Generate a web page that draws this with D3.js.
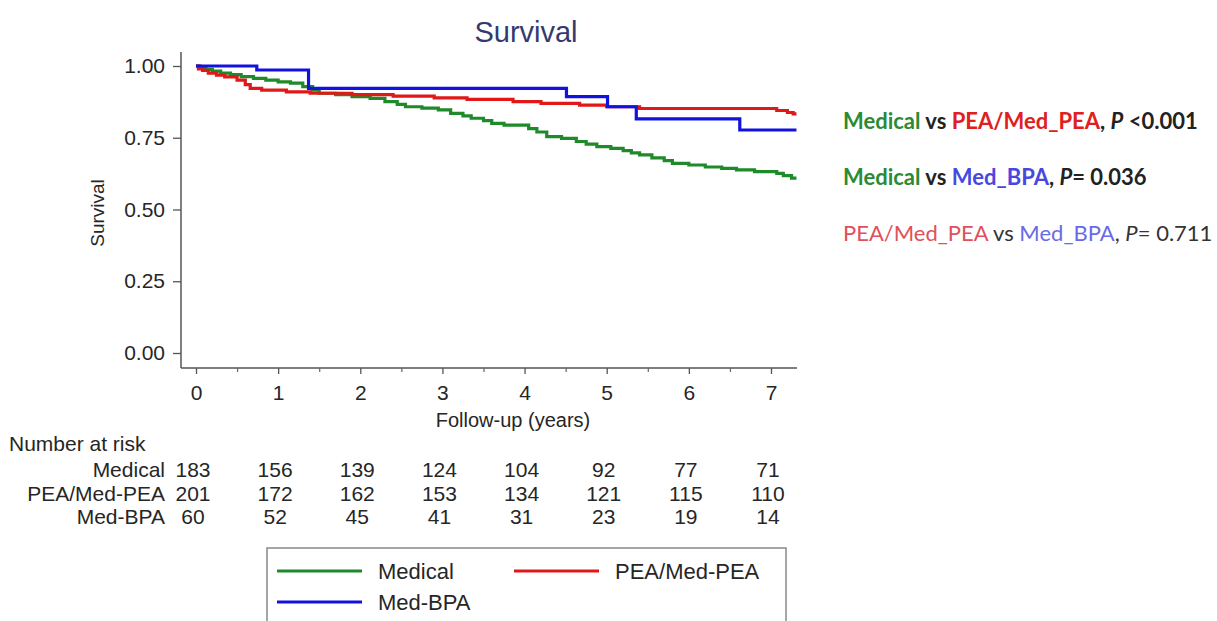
<!DOCTYPE html>
<html><head><meta charset="utf-8">
<script src="https://cdn.jsdelivr.net/npm/d3@7"></script>
<style>body{margin:0;background:#fff;}svg{display:block;font-family:"Liberation Sans",Arial,sans-serif;}</style>
</head><body>
<svg id="chart" width="1217" height="621"></svg>
<script>
const seriesNames = ["Medical", "PEA/Med-PEA", "Med-BPA"];
const seriesColors = ["#1f8a2a", "#e01818", "#1212e0"];
const medical = [[0,1],[0.05,0.994],[0.12,0.988],[0.2,0.982],[0.3,0.975],[0.42,0.97],[0.55,0.963],[0.7,0.957],[0.85,0.951],[1.0,0.945],[1.15,0.94],[1.3,0.928],[1.42,0.916],[1.5,0.905],[1.7,0.9],[1.9,0.893],[2.12,0.887],[2.3,0.876],[2.45,0.866],[2.55,0.858],[2.75,0.853],[2.95,0.847],[3.1,0.835],[3.25,0.826],[3.35,0.818],[3.5,0.81],[3.6,0.8],[3.75,0.794],[4.05,0.782],[4.15,0.77],[4.27,0.754],[4.45,0.748],[4.63,0.737],[4.75,0.728],[4.88,0.719],[5.05,0.713],[5.2,0.705],[5.3,0.697],[5.4,0.69],[5.55,0.68],[5.7,0.67],[5.8,0.661],[6.0,0.655],[6.2,0.648],[6.4,0.643],[6.58,0.638],[6.8,0.632],[7.07,0.626],[7.15,0.618],[7.25,0.609],[7.31,0.609]];
const peaMedPea = [[0,1],[0.03,0.99],[0.08,0.985],[0.15,0.975],[0.25,0.968],[0.35,0.962],[0.5,0.951],[0.6,0.935],[0.66,0.922],[0.8,0.916],[1.1,0.91],[1.39,0.905],[1.9,0.9],[2.4,0.895],[2.9,0.889],[3.3,0.884],[3.86,0.876],[4.2,0.87],[4.67,0.864],[5.0,0.858],[5.4,0.852],[7.07,0.845],[7.2,0.838],[7.27,0.833],[7.31,0.833]];
const medBpa = [[0,1],[0.74,0.986],[1.37,0.922],[4.51,0.893],[5.01,0.858],[5.36,0.816],[6.62,0.777],[7.31,0.777]];
const xTicks = [0,1,2,3,4,5,6,7];
const yTicks = [0,0.25,0.5,0.75,1];
const riskLabels = ["Medical", "PEA/Med-PEA", "Med-BPA"];
const riskMedical = [183,156,139,124,104,92,77,71];
const riskPea = [201,172,162,153,134,121,115,110];
const riskBpa = [60,52,45,41,31,23,19,14];

const svg = d3.select("#chart");
const x = d3.scaleLinear().domain([0,7]).range([196,771]);
const y = d3.scaleLinear().domain([0,1]).range([353,66]);
const xAxisY = 368, yAxisX = 181;
const ink = "#262626";

// title
svg.append("text").attr("x",526).attr("y",42).attr("text-anchor","middle")
  .attr("font-size",29).attr("fill","#343a6e").text("Survival");

// y axis
const gy = svg.append("g").attr("transform",`translate(${yAxisX},0)`)
  .call(d3.axisLeft(y).tickValues(yTicks).tickFormat(d3.format(".2f")).tickSize(8).tickPadding(8));
gy.select(".domain").attr("d",`M0,52V${xAxisY}`).attr("stroke","#555").attr("stroke-width",1.5);
gy.selectAll(".tick line").attr("stroke","#555").attr("stroke-width",1.3);
gy.selectAll(".tick text").attr("font-size",21).attr("fill",ink).attr("font-family","Liberation Sans, Arial");

// x axis
const gx = svg.append("g").attr("transform",`translate(0,${xAxisY})`)
  .call(d3.axisBottom(x).tickValues(xTicks).tickFormat(d3.format("d")).tickSize(6).tickPadding(11));
gx.select(".domain").attr("d",`M${yAxisX},0H797`).attr("stroke","#555").attr("stroke-width",1.5);
gx.selectAll(".tick line").attr("stroke","#555").attr("stroke-width",1.3);
gx.selectAll(".tick text").attr("font-size",21).attr("fill",ink).attr("font-family","Liberation Sans, Arial");
svg.append("g").attr("transform",`translate(0,${xAxisY})`)
  .call(d3.axisBottom(x).tickValues(d3.range(0.5,7.5,1)).tickFormat("").tickSize(4))
  .call(g=>g.select(".domain").remove())
  .selectAll(".tick line").attr("stroke","#666").attr("stroke-width",1.2);

svg.append("text").attr("x",513).attr("y",427).attr("text-anchor","middle")
  .attr("font-size",20).attr("fill",ink).text("Follow-up (years)");
svg.append("text").attr("transform","translate(104,213) rotate(-90)").attr("text-anchor","middle")
  .attr("font-size",19).attr("fill",ink).text("Survival");

// curves
const line = d3.line().x(d=>x(d[0])).y(d=>y(d[1])).curve(d3.curveStepAfter);
[medical, peaMedPea, medBpa].forEach((data,i)=>{
  svg.append("path").datum(data).attr("d",line).attr("fill","none")
    .attr("stroke",seriesColors[i]).attr("stroke-width",3.2);
});

// number at risk
svg.append("text").attr("x",9).attr("y",451).attr("font-size",21).attr("fill",ink).text("Number at risk");
const riskRows = [riskMedical, riskPea, riskBpa];
riskRows.forEach((row,i)=>{
  const ry = 477 + i*23.5;
  svg.append("text").attr("x",165).attr("y",ry).attr("text-anchor","end")
    .attr("font-size",21).attr("fill",ink).text(riskLabels[i]);
  row.forEach((v,j)=>{
    svg.append("text").attr("x",x(xTicks[j])-3).attr("y",ry).attr("text-anchor","middle")
      .attr("font-size",21).attr("fill",ink).text(v);
  });
});

// legend
svg.append("rect").attr("x",267).attr("y",548).attr("width",519).attr("height",90)
  .attr("fill","none").attr("stroke","#888").attr("stroke-width",1.5);
const legendPos = [[277,571],[514,571],[277,602]];
seriesNames.forEach((n,i)=>{
  const [lx,ly] = legendPos[i];
  svg.append("line").attr("x1",lx).attr("x2",lx+85).attr("y1",ly).attr("y2",ly)
    .attr("stroke",seriesColors[i]).attr("stroke-width",3.2);
  svg.append("text").attr("x",lx+101).attr("y",ly+8).attr("font-size",22).attr("fill",ink).text(n);
});

// p-value annotations
const annGreen="#2a8a35", annRed="#e02020", annBlue="#4848e0";
const annotations = [
  {y:129, bold:true, parts:[["Medical",annGreen],[" vs ","#222"],["PEA/Med_PEA",annRed],[", ","#222"],["P","#222",true],[" <0.001","#222"]]},
  {y:185, bold:true, parts:[["Medical",annGreen],[" vs ","#222"],["Med_BPA",annBlue],[", ","#222"],["P","#222",true],["= 0.036","#222"]]},
  {y:241, bold:false, parts:[["PEA/Med_PEA","#e0505a"],[" vs ","#333"],["Med_BPA","#6a6ae8"],[", ","#333"],["P","#333",true],["= 0.711","#333"]]}
];
annotations.forEach(a=>{
  const t = svg.append("text").attr("x",843).attr("y",a.y).attr("font-size",22)
    .attr("font-family","Lato, 'Open Sans', sans-serif").attr("font-weight",a.bold?"bold":"normal");
  a.parts.forEach(p=>{
    t.append("tspan").attr("fill",p[1]).attr("font-style",p[2]?"italic":"normal").text(p[0]);
  });
});
</script>
</body></html>
